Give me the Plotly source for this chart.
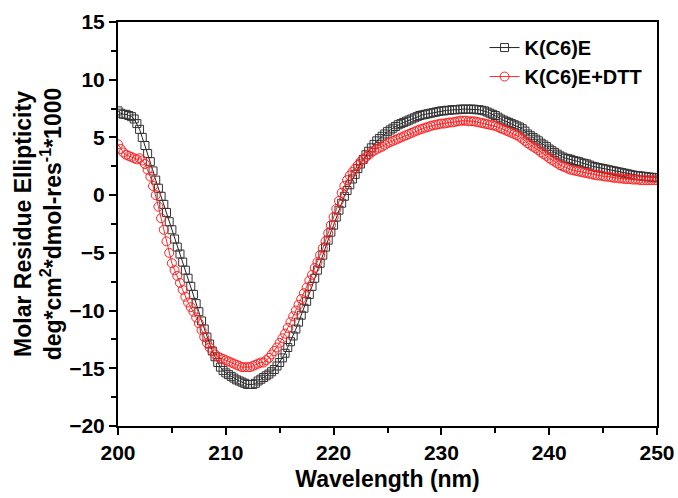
import numpy as np
import plotly.graph_objects as go

# Wavelength grid (nm), 0.25 nm steps from 200 to 250
WL_START = 200.0
WL_STEP = 0.25

# K(C6)E, molar residue ellipticity (x1000), one row per nm (4 points each)
kc6e = [
    7.3, 7.1, 7.0, 7.0,
    6.9, 6.8, 6.6, 6.2,
    5.7, 5.0, 4.3, 3.6,
    2.9, 2.1, 1.3, 0.6,
    -0.1, -0.8, -1.5, -2.3,
    -3.0, -3.8, -4.5, -5.1,
    -5.8, -6.5, -7.2, -7.9,
    -8.6, -9.4, -10.1, -10.9,
    -11.6, -12.3, -12.9, -13.5,
    -14.0, -14.5, -14.9, -15.2,
    -15.4, -15.55, -15.7, -15.85,
    -16.0, -16.1, -16.2, -16.3,
    -16.4, -16.4, -16.4, -16.3,
    -16.1, -15.95, -15.8, -15.65,
    -15.5, -15.3, -15.1, -14.8,
    -14.5, -14.1, -13.7, -13.2,
    -12.7, -12.2, -11.6, -11.0,
    -10.4, -9.8, -9.2, -8.6,
    -7.9, -7.2, -6.5, -5.9,
    -5.2, -4.5, -3.9, -3.2,
    -2.6, -1.9, -1.3, -0.7,
    -0.1, 0.4, 0.9, 1.4,
    1.8, 2.3, 2.7, 3.1,
    3.5, 3.8, 4.1, 4.4,
    4.7, 4.9, 5.1, 5.3,
    5.5, 5.65, 5.8, 5.95,
    6.1, 6.2, 6.3, 6.4,
    6.5, 6.6, 6.7, 6.8,
    6.9, 6.95, 7.0, 7.05,
    7.1, 7.15, 7.2, 7.25,
    7.3, 7.3, 7.35, 7.35,
    7.4, 7.4, 7.4, 7.45,
    7.45, 7.45, 7.45, 7.45,
    7.45, 7.4, 7.4, 7.35,
    7.3, 7.2, 7.1, 7.0,
    6.9, 6.75, 6.6, 6.5,
    6.4, 6.3, 6.2, 6.1,
    6.0, 5.9, 5.75, 5.55,
    5.3, 5.15, 5.0, 4.85,
    4.7, 4.5, 4.35, 4.2,
    4.0, 3.85, 3.7, 3.55,
    3.4, 3.3, 3.2, 3.15,
    3.1, 3.0, 2.95, 2.9,
    2.8, 2.75, 2.7, 2.6,
    2.5, 2.45, 2.4, 2.35,
    2.3, 2.25, 2.2, 2.15,
    2.1, 2.05, 2.0, 1.95,
    1.9, 1.85, 1.8, 1.75,
    1.7, 1.68, 1.66, 1.63,
    1.6, 1.57, 1.55, 1.52,
    1.5,
]

# K(C6)E+DTT
kc6e_dtt = [
    4.4, 4.0, 3.7, 3.5,
    3.4, 3.3, 3.2, 3.1,
    3.2, 3.0, 2.7, 2.2,
    1.6, 0.8, 0.0, -1.0,
    -2.0, -3.0, -4.0, -5.0,
    -5.9, -6.5, -7.0, -7.6,
    -8.2, -8.8, -9.3, -9.7,
    -10.1, -10.6, -11.1, -11.7,
    -12.3, -12.8, -13.2, -13.5,
    -13.8, -14.0, -14.1, -14.2,
    -14.3, -14.4, -14.5, -14.6,
    -14.7, -14.8, -14.9, -14.9,
    -14.9, -14.9, -14.8, -14.7,
    -14.6, -14.5, -14.5, -14.3,
    -14.1, -13.8, -13.5, -13.2,
    -12.8, -12.4, -12.0, -11.5,
    -11.0, -10.5, -10.0, -9.5,
    -9.0, -8.5, -8.0, -7.4,
    -6.9, -6.3, -5.8, -5.2,
    -4.6, -4.0, -3.3, -2.6,
    -1.9, -1.2, -0.5, 0.2,
    0.8, 1.3, 1.7, 2.0,
    2.3, 2.6, 2.9, 3.1,
    3.3, 3.5, 3.7, 3.85,
    4.0, 4.1, 4.2, 4.35,
    4.5, 4.6, 4.7, 4.8,
    4.9, 5.0, 5.1, 5.2,
    5.3, 5.4, 5.5, 5.6,
    5.7, 5.75, 5.85, 5.9,
    6.0, 6.05, 6.1, 6.15,
    6.2, 6.2, 6.25, 6.3,
    6.3, 6.35, 6.4, 6.45,
    6.45, 6.45, 6.4, 6.4,
    6.4, 6.35, 6.3, 6.25,
    6.2, 6.15, 6.1, 6.05,
    6.0, 5.9, 5.8, 5.7,
    5.6, 5.5, 5.4, 5.3,
    5.2, 5.05, 4.9, 4.7,
    4.5, 4.35, 4.2, 4.05,
    3.9, 3.7, 3.55, 3.4,
    3.2, 3.05, 2.9, 2.75,
    2.6, 2.5, 2.4, 2.3,
    2.2, 2.15, 2.1, 2.05,
    2.0, 1.95, 1.9, 1.85,
    1.8, 1.75, 1.7, 1.7,
    1.65, 1.6, 1.6, 1.55,
    1.5, 1.5, 1.45, 1.45,
    1.4, 1.4, 1.4, 1.35,
    1.35, 1.35, 1.3, 1.3,
    1.3, 1.3, 1.3, 1.3,
    1.3,
]

series_names = ["K(C6)E", "K(C6)E+DTT"]
x_tickvals = [200, 210, 220, 230, 240, 250]
y_tickvals = [-20, -15, -10, -5, 0, 5, 10, 15]

n = len(kc6e)
assert n == len(kc6e_dtt) == 201, (len(kc6e), len(kc6e_dtt))
wavelength = WL_START + WL_STEP * np.arange(n)

FONT = "Arial, 'Liberation Sans', sans-serif"

fig = go.Figure()
fig.add_trace(go.Scatter(
    x=wavelength, y=kc6e, name=series_names[0], mode="lines+markers",
    line=dict(color="#222222", width=1),
    marker=dict(symbol="square-open", size=8, color="#333333", line=dict(width=1)),
))
fig.add_trace(go.Scatter(
    x=wavelength, y=kc6e_dtt, name=series_names[1], mode="lines+markers",
    line=dict(color="#ff2a2a", width=1),
    marker=dict(symbol="circle-open", size=9, color="#ff2020", line=dict(width=1)),
))

axis_common = dict(
    showline=True, linewidth=2, linecolor="black", mirror=True,
    ticks="outside", ticklen=7, tickwidth=2, tickcolor="black",
    showgrid=False, zeroline=False, automargin=False,
    tickfont=dict(family=FONT, size=21, color="black", weight="bold"),
)

fig.update_xaxes(
    range=[200, 250], tickvals=x_tickvals,
    minor=dict(ticks="outside", ticklen=5, tickwidth=2, tickcolor="black", dtick=5, showgrid=False),
    title=dict(text="Wavelength (nm)", font=dict(family=FONT, size=23, color="black", weight="bold"), standoff=8),
    **axis_common,
)
fig.update_yaxes(
    range=[-20, 15], tickvals=y_tickvals,
    minor=dict(ticks="outside", ticklen=5, tickwidth=2, tickcolor="black", dtick=2.5, showgrid=False),
    title=dict(text="Molar Residue Ellipticity<br>deg*cm<sup>2</sup>*dmol-res<sup>-1</sup>*1000",
               font=dict(family=FONT, size=23, color="black", weight="bold"), standoff=1),
    **axis_common,
)

fig.update_layout(
    width=678, height=498,
    margin=dict(l=118, r=21, t=22, b=72),
    plot_bgcolor="white", paper_bgcolor="white",
    legend=dict(x=0.68, y=0.985, xanchor="left", yanchor="top",
                bgcolor="rgba(0,0,0,0)",
                font=dict(family=FONT, size=20, color="black", weight="bold")),
)

fig.write_html("out.html", config={"displayModeBar": False},
               post_script="document.body.style.margin='0';")
